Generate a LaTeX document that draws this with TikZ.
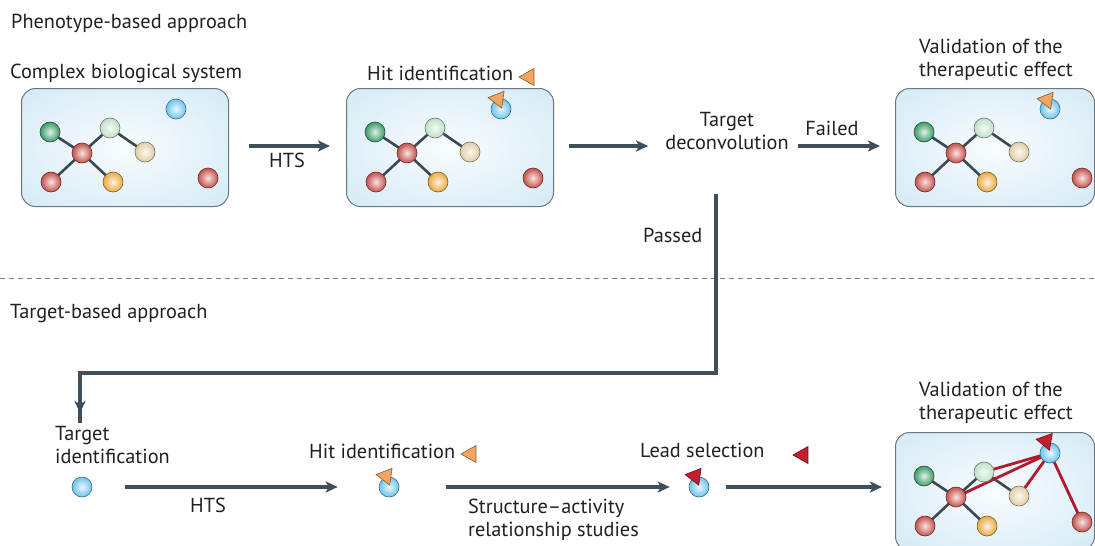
\documentclass[tikz,border=0pt]{standalone}
\usepackage{fontspec}
\setmainfont{PT Sans}
\usetikzlibrary{arrows.meta,shapes.geometric}
\definecolor{linecol}{HTML}{3E4F5B}
\definecolor{boxblue}{HTML}{CBE5F3}
\definecolor{boxcenter}{HTML}{F8FCFE}
\definecolor{boxdraw}{HTML}{6B7780}
\definecolor{cblue}{HTML}{6CC4EC}
\definecolor{cdg}{HTML}{3B9A66}
\definecolor{clg}{HTML}{BFDFC6}
\definecolor{cred}{HTML}{C4504A}
\definecolor{cbeige}{HTML}{DFCDA6}
\definecolor{corange}{HTML}{E8AA40}
\definecolor{linkcol}{HTML}{3B4751}
\definecolor{redlink}{HTML}{B0192E}
\definecolor{triorange}{HTML}{F2A460}
\definecolor{trired}{HTML}{C31F2F}
\definecolor{txt}{HTML}{231F20}
\definecolor{dashcol}{HTML}{7A7F84}
\pgfdeclarelayer{bg}
\pgfdeclarelayer{mid}
\pgfsetlayers{bg,mid,main}
\pgfdeclareradialshading{boxshade}{\pgfpoint{0bp}{0bp}}{color(0bp)=(boxcenter); color(18bp)=(boxcenter!60!boxblue); color(45bp)=(boxblue); color(100bp)=(boxblue)}
\tikzset{
  lbl/.style={font=\fontsize{20.3}{23}\selectfont, text=txt, inner sep=0pt},
  cellbox/.style={rectangle, rounded corners=14pt, draw=boxdraw, line width=1pt, shade, shading=boxshade, inner sep=0pt},
  ball/.style={circle, minimum size=20pt, inner sep=0pt, draw=#1!55!black, line width=0.6pt, shade, inner color=#1!15!white, outer color=#1},
  tri/.style={isosceles triangle, isosceles triangle stretches, shape border rotate=180, minimum width=17pt, minimum height=15pt, inner sep=0pt, fill=#1, draw=#1!55!black, line width=0.6pt},
  link/.style={draw=linkcol, line width=2.6pt},
  redline/.style={draw=redlink, line width=2.8pt},
  flow/.style={draw=linecol, line width=3.1pt, -{Stealth[length=12pt,width=11pt,inset=3pt]}},
  flowline/.style={draw=linecol, line width=3.1pt},
  sep/.style={draw=dashcol, line width=0.9pt, dash pattern=on 5pt off 4pt},
}
\newcommand\cellnet[4]{%
  \begin{scope}[shift={(#2,#3)}]
    \begin{pgfonlayer}{bg}
      \node[cellbox, minimum width=#4pt, minimum height=118pt, anchor=north west] (#1) at (0,0) {};
    \end{pgfonlayer}
    \node[ball=cblue] (#1b) at (155,21) {};
    \node[ball=cdg] (#1dg) at (29,44) {};
    \node[ball=clg] (#1lg) at (89,40) {};
    \node[ball=cred] (#1rc) at (61,65) {};
    \node[ball=cbeige] (#1be) at (124,64) {};
    \node[ball=cred] (#1rbl) at (30,94) {};
    \node[ball=corange] (#1or) at (92,94) {};
    \node[ball=cred] (#1rr) at (187,90) {};
    \begin{pgfonlayer}{mid}
      \draw[link] (#1dg.center) -- (#1rc.center) -- (#1lg.center) -- (#1be.center);
      \draw[link] (#1rbl.center) -- (#1rc.center) -- (#1or.center);
    \end{pgfonlayer}
  \end{scope}}
\begin{document}
\begin{tikzpicture}[x=1pt,y=-1pt]
\begin{pgfonlayer}{bg}
\fill[white] (0,0) rectangle (1095,546);
\end{pgfonlayer}
\useasboundingbox (0,0) rectangle (1095,546);

% section titles
\node[lbl, anchor=base west] (phen) at (11,28) {Phenotype-based approach};
\node[lbl, anchor=base west] (tba) at (10,318) {Target-based approach};
\draw[sep] (0,278) -- (1095,278);

% ---------- top row ----------
\node[lbl, anchor=base west] (cbs) at (10,78) {Complex biological system};
\cellnet{boxA}{21}{88}{207}
\cellnet{boxB}{346}{88}{207}
\cellnet{boxC}{895}{88}{199}

\node[lbl, anchor=base west] (hit1) at (367,80) {Hit identification};
\node[tri=triorange] (tri1) at (529,77) {};
\node[tri=triorange, rotate=-8] (tri1b) at (498,99) {};
\node[tri=triorange, rotate=-8] (tri3b) at (1047,100) {};

\node[lbl, anchor=base] (hts1) at (287,167) {HTS};
\node[lbl, align=center, anchor=north] (deconv) at (727,112) {Target\\deconvolution};
\node[lbl, anchor=base] (failed) at (832,135) {Failed};
\node[lbl, align=left, anchor=north west] (val1) at (919,39) {Validation of the\\therapeutic effect};
\node[lbl, anchor=base west] (passed) at (643,242) {Passed};

\draw[flow] ([xshift=20pt]boxA.east |- 0,146) -- ([xshift=-16pt]boxB.west |- 0,146);
\draw[flow] ([xshift=15pt]boxB.east |- 0,146) -- ([xshift=-17pt]deconv.west |- 0,146);
\draw[flow] ([xshift=9pt]deconv.east |- 0,146) -- ([xshift=-15pt]boxC.west |- 0,146);

\coordinate (pass1) at (716,194);
\coordinate (pass2) at (80,413);
\draw[flowline] (pass1) -- (716,373) -| ([yshift=-10pt]pass2);
\draw[flow] (80,371.5) -- (pass2);

% ---------- bottom row ----------
\node[lbl, align=left, anchor=north west] (tid) at (55,426) {Target\\identification};
\node[ball=cblue] (tball) at (82,487) {};
\node[lbl, anchor=base] (hts2) at (208,512) {HTS};

\node[lbl, anchor=base west] (hit2) at (309,458) {Hit identification};
\node[tri=triorange] (tri2) at (471,454) {};
\node[ball=cblue] (hball) at (389,487) {};
\node[tri=triorange, rotate=-8] (tri2b) at (386,476) {};

\node[lbl, align=left, anchor=north west] (sar) at (468,499) {Structure–activity\\relationship studies};

\node[lbl, anchor=base west] (lead) at (640,457) {Lead selection};
\node[tri=trired] (tri3) at (803,455) {};
\node[ball=cblue] (lball) at (699,487) {};
\node[tri=trired, rotate=-8] (tri3c) at (695,476) {};

\node[lbl, align=left, anchor=north west] (val2) at (919,382) {Validation of the\\therapeutic effect};
\cellnet{boxD}{895}{432}{199}
\begin{pgfonlayer}{mid}
  \draw[redline] (boxDb.center) -- (boxDlg.center);
  \draw[redline] (boxDb.center) -- (boxDrc.center);
  \draw[redline] (boxDb.center) -- (boxDbe.center);
  \draw[redline] (boxDb.center) -- (boxDrr.center);
\end{pgfonlayer}
\node[tri=trired, rotate=-10] (tri4) at (1046,441) {};

\draw[flow] ([xshift=33pt]tball.east) -- ([xshift=-41pt]hball.west);
\draw[flow] ([xshift=47pt]hball.east) -- ([xshift=-19pt]lball.west);
\draw[flow] ([xshift=17pt]lball.east) -- ([xshift=-13pt]boxD.west |- lball.center);
\end{tikzpicture}
\end{document}
